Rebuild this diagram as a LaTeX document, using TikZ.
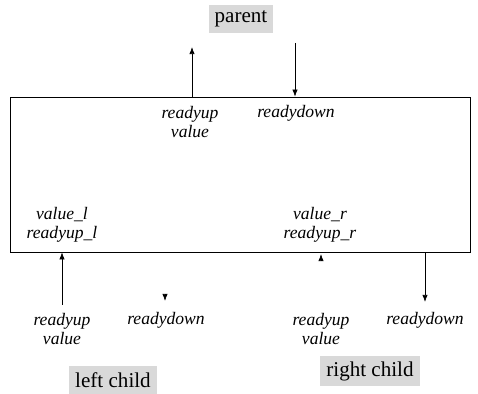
\documentclass[tikz,border=0pt]{standalone}
\usepackage{fontspec}
\setmainfont{Liberation Serif}
\usetikzlibrary{arrows.meta}

\begin{document}
\begin{tikzpicture}[x=0.02cm, y=-0.02cm,
                signal/.style = {font=\fontsize{10}{10.5}\selectfont\itshape, align=center, inner sep=0pt},
                party/.style = {fill=black!15, font=\fontsize{12}{13}\selectfont, inner xsep=3.5pt, minimum height=16pt},
                port/.style = {-{Latex[length=4pt,width=3pt]}, thin}
                ]
                \useasboundingbox (0,0) rectangle (478,394);
                % the node and its neighbours
                \node[draw, thin, minimum width=9.2cm, minimum height=3.1cm, inner sep=0pt] (proc) at (240,174.5) {};
                \node[party] (parent) at (241,19) {parent};
                \node[party] (left) at (113,380) {left child};
                \node[party] (right) at (370,371) {right child};

                % ends of the connectors
                \coordinate (upP) at (192,47);
                \coordinate (downP) at (295,43);
                \coordinate (upL) at (62,305);
                \coordinate (downL) at (165,296);
                \coordinate (upR) at (321,259);
                \coordinate (downR) at (425,302);

                \draw[port] (proc.north -| upP) -- (upP);
                \draw[port] (downP) -- (proc.north -| downP);
                \draw[port] (upL) -- (proc.south -| upL);
                \draw[port] (downL) -- ++(0,5);
                \draw[port] (upR) -- ++(0,-5);
                \draw[port] (proc.south -| downR) -- (downR);

                % signal names
                \node[signal] (pup) at (190,122) {readyup\\value};
                \node[signal] (pdown) at (296,113) {readydown};
                \node[signal] (inL) at (62,225) {value\_l\\readyup\_l};
                \node[signal] (inR) at (320,225) {value\_r\\readyup\_r};
                \node[signal] (lup) at (62,329) {readyup\\value};
                \node[signal] (ldown) at (166,320) {readydown};
                \node[signal] (rup) at (321,329) {readyup\\value};
                \node[signal] (rdown) at (425,320) {readydown};
            \end{tikzpicture}
\end{document}
